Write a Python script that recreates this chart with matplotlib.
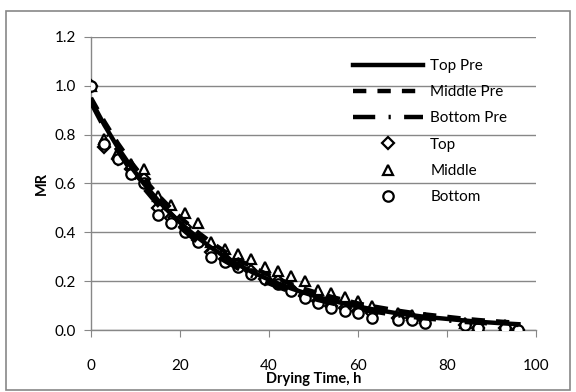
import matplotlib
matplotlib.use("Agg")
from matplotlib import pyplot as plt
from matplotlib.patches import Rectangle

plt.rcParams['font.family'] = ['Lato', 'DejaVu Sans']

# drying time, h
time_h = [0, 3, 6, 9, 12, 15, 18, 21, 24, 27, 30, 33, 36, 39, 42, 45, 48,
          51, 54, 57, 60, 63, 69, 72, 75, 84, 87, 93, 96]

# measured moisture ratio
mr_top = [1.00, 0.75, 0.70, 0.66, 0.62, 0.50, 0.46, 0.42, 0.37, 0.32, 0.29,
          0.27, 0.24, 0.21, 0.20, 0.17, 0.14, 0.12, 0.10, 0.09, 0.08, 0.07,
          0.05, 0.05, 0.04, 0.02, 0.01, 0.01, 0.00]
mr_middle = [1.00, 0.78, 0.73, 0.68, 0.66, 0.55, 0.51, 0.48, 0.44, 0.36, 0.33,
             0.31, 0.29, 0.26, 0.24, 0.22, 0.20, 0.165, 0.15, 0.135, 0.12,
             0.10, 0.07, 0.06, 0.05, 0.03, 0.02, 0.02, 0.01]
mr_bottom = [1.00, 0.76, 0.70, 0.64, 0.60, 0.47, 0.44, 0.40, 0.36, 0.30, 0.28,
             0.26, 0.23, 0.21, 0.19, 0.16, 0.13, 0.11, 0.09, 0.08, 0.07, 0.05,
             0.04, 0.04, 0.03, 0.02, 0.01, 0.01, 0.00]

# predicted moisture ratio
pre_top = [0.940, 0.839, 0.748, 0.668, 0.596, 0.532, 0.474, 0.423, 0.378,
           0.337, 0.301, 0.268, 0.239, 0.214, 0.191, 0.170, 0.152, 0.135,
           0.121, 0.108, 0.096, 0.086, 0.068, 0.061, 0.054, 0.039, 0.034,
           0.027, 0.024]
pre_middle = [0.950, 0.853, 0.765, 0.687, 0.617, 0.553, 0.497, 0.446, 0.400,
              0.359, 0.322, 0.289, 0.260, 0.233, 0.209, 0.188, 0.168, 0.151,
              0.136, 0.122, 0.109, 0.098, 0.079, 0.071, 0.064, 0.046, 0.041,
              0.033, 0.030]
pre_bottom = [0.930, 0.826, 0.733, 0.651, 0.578, 0.513, 0.456, 0.405, 0.359,
              0.319, 0.283, 0.252, 0.223, 0.198, 0.176, 0.156, 0.139, 0.123,
              0.110, 0.097, 0.086, 0.077, 0.060, 0.054, 0.048, 0.033, 0.030,
              0.023, 0.021]

fig = plt.figure(figsize=(5.76, 3.92), dpi=100)
fig.patches.append(Rectangle((0.010, 0.006), 0.980, 0.967, transform=fig.transFigure,
                             fill=False, edgecolor='#878787', lw=1.2))
ax = fig.add_axes([0.158, 0.158, 0.773, 0.748])

ax.plot(time_h, mr_top, ls='none', marker='D', ms=6, mfc='white', mec='black',
        mew=1.6, label='Top', zorder=3)
ax.plot(time_h, mr_middle, ls='none', marker='^', ms=7.5, mfc='white', mec='black',
        mew=1.6, label='Middle', zorder=3)
ax.plot(time_h, mr_bottom, ls='none', marker='o', ms=7.5, mfc='white', mec='black',
        mew=1.6, label='Bottom', zorder=3)

ax.plot(time_h, pre_top, color='black', lw=3.2, ls='-', label='Top Pre', zorder=4)
ax.plot(time_h, pre_middle, color='black', lw=3.2, ls=(0, (3, 2.5)), label='Middle Pre', zorder=4)
ax.plot(time_h, pre_bottom, color='black', lw=3.2, ls=(0, (5, 3, 0.5, 3)), label='Bottom Pre', zorder=4)

ax.set_xlim(0, 100)
ax.set_ylim(0, 1.2)
ax.set_xticks(range(0, 101, 20))
ax.set_yticks([0, 0.2, 0.4, 0.6, 0.8, 1.0, 1.2])
ax.set_yticklabels(['0.0', '0.2', '0.4', '0.6', '0.8', '1.0', '1.2'])
ax.grid(axis='y', color='#878787', lw=1.0)
ax.set_axisbelow(True)
for s in ['top', 'right']:
    ax.spines[s].set_visible(False)
for s in ['left', 'bottom']:
    ax.spines[s].set_color('#878787')
    ax.spines[s].set_linewidth(1.0)
ax.tick_params(axis='x', direction='out', length=5, color='#878787', pad=16, labelsize=11)
ax.tick_params(axis='y', direction='out', length=5, color='#878787', pad=6, labelsize=11)

ax.set_xlabel('Drying Time, h', fontweight='bold', fontsize=10.5, labelpad=-1)
ax.set_ylabel('MR', fontweight='bold', fontsize=10.5, labelpad=4)

h, l = ax.get_legend_handles_labels()
order = [3, 4, 5, 0, 1, 2]
ax.legend([h[i] for i in order], [l[i] for i in order], loc='upper left',
          bbox_to_anchor=(353 / 576, 1 - 59 / 392), bbox_transform=fig.transFigure,
          frameon=False, fontsize=11, borderpad=0, borderaxespad=0,
          handlelength=4.6, handletextpad=0.45, labelspacing=0.8)

fig.savefig('out.png', dpi=100)
